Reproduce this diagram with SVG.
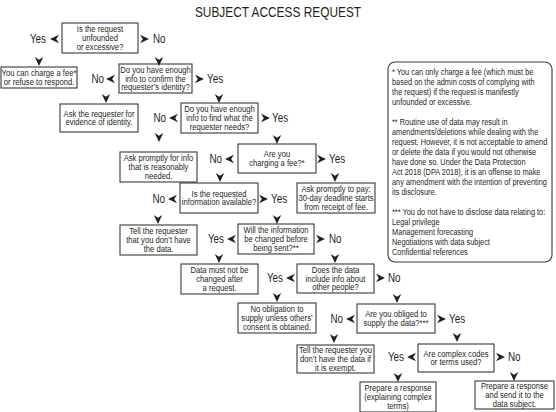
<svg xmlns="http://www.w3.org/2000/svg" xmlns:xlink="http://www.w3.org/1999/xlink" width="556" height="412" viewBox="0 0 556 412">
<style>
text{font-family:"Liberation Sans",Arial,sans-serif;fill:#231f20}
.title{font-size:14.5px;text-anchor:middle}
.bx rect{fill:#fff;stroke:#3a3a3a;stroke-width:1.1}
.bx text{font-size:9px;text-anchor:middle}
.lbl{font-size:12px}
.r{text-anchor:end}
.note{font-size:9px}
.ah{fill:#231f20}
</style>
<defs>
<path id="ar" d="M0,0 L-9,-4.2 L-6.2,0 L-9,4.2 Z"/>
</defs>
<rect width="556" height="412" fill="#fff"/>
<text class="title" transform="translate(278 0) scale(.82 1)" x="0" y="17">SUBJECT ACCESS REQUEST</text>

<g id="n1" class="bx"><rect x="62" y="23" width="76" height="30"/><text transform="translate(100 0) scale(.85 1)"><tspan x="0" y="32.3">Is the request</tspan><tspan x="0" y="41.1">unfounded</tspan><tspan x="0" y="49.9">or excessive?</tspan></text></g>
<g id="n2" class="bx"><rect x="1" y="67" width="76" height="21"/><text transform="translate(39 0) scale(.85 1)"><tspan x="0" y="76.2">You can charge a fee*</tspan><tspan x="0" y="85">or refuse to respond.</tspan></text></g>
<g id="n3" class="bx"><rect x="119" y="64" width="73" height="29"/><text transform="translate(155.5 0) scale(.85 1)"><tspan x="0" y="72.8">Do you have enough</tspan><tspan x="0" y="81.6">info to confirm the</tspan><tspan x="0" y="90.4">requester’s identity?</tspan></text></g>
<g id="n4" class="bx"><rect x="60" y="104" width="78" height="28"/><text transform="translate(99 0) scale(.85 1)"><tspan x="0" y="116.7">Ask the requester for</tspan><tspan x="0" y="125.5">evidence of identity.</tspan></text></g>
<g id="n5" class="bx"><rect x="181" y="103" width="77" height="30"/><text transform="translate(219.5 0) scale(.85 1)"><tspan x="0" y="112.3">Do you have enough</tspan><tspan x="0" y="121.1">info to find what the</tspan><tspan x="0" y="129.9">requester needs?</tspan></text></g>
<g id="n6" class="bx"><rect x="120" y="152" width="77" height="30"/><text transform="translate(158.5 0) scale(.85 1)"><tspan x="0" y="161.3">Ask promptly for info</tspan><tspan x="0" y="170.1">that is reasonably</tspan><tspan x="0" y="178.9">needed.</tspan></text></g>
<g id="n7" class="bx"><rect x="238" y="144" width="78" height="29"/><text transform="translate(277 0) scale(.85 1)"><tspan x="0" y="157.2">Are you</tspan><tspan x="0" y="166">charging a fee?*</tspan></text></g>
<g id="n8" class="bx"><rect x="180" y="183" width="78" height="30"/><text transform="translate(219 0) scale(.85 1)"><tspan x="0" y="196.7">Is the requested</tspan><tspan x="0" y="205.5">information available?</tspan></text></g>
<g id="n9" class="bx"><rect x="297" y="183" width="78" height="30"/><text transform="translate(336 0) scale(.85 1)"><tspan x="0" y="192.3">Ask promptly to pay:</tspan><tspan x="0" y="201.1">30-day deadline starts</tspan><tspan x="0" y="209.9">from receipt of fee.</tspan></text></g>
<g id="n10" class="bx"><rect x="120" y="225" width="77" height="30"/><text transform="translate(158.5 0) scale(.85 1)"><tspan x="0" y="234.3">Tell the requester</tspan><tspan x="0" y="243.1">that you don’t have</tspan><tspan x="0" y="251.9">the data.</tspan></text></g>
<g id="n11" class="bx"><rect x="238" y="224" width="76" height="30"/><text transform="translate(276 0) scale(.85 1)"><tspan x="0" y="233.3">Will the information</tspan><tspan x="0" y="242.1">be changed before</tspan><tspan x="0" y="250.9">being sent?**</tspan></text></g>
<g id="n12" class="bx"><rect x="181" y="264" width="77" height="30"/><text transform="translate(219.5 0) scale(.85 1)"><tspan x="0" y="273.3">Data must not be</tspan><tspan x="0" y="282.1">changed after</tspan><tspan x="0" y="290.9">a request.</tspan></text></g>
<g id="n13" class="bx"><rect x="297" y="264" width="77" height="29"/><text transform="translate(335.5 0) scale(.85 1)"><tspan x="0" y="272.8">Does the data</tspan><tspan x="0" y="281.6">include info about</tspan><tspan x="0" y="290.4">other people?</tspan></text></g>
<g id="n14" class="bx"><rect x="238" y="303" width="78" height="30"/><text transform="translate(277 0) scale(.85 1)"><tspan x="0" y="312.3">No obligation to</tspan><tspan x="0" y="321.1">supply unless others’</tspan><tspan x="0" y="329.9">consent is obtained.</tspan></text></g>
<g id="n15" class="bx"><rect x="357" y="304" width="78" height="29"/><text transform="translate(396 0) scale(.85 1)"><tspan x="0" y="317.2">Are you obliged to</tspan><tspan x="0" y="326">supply the data?***</tspan></text></g>
<g id="n16" class="bx"><rect x="297" y="345" width="77" height="28"/><text transform="translate(335.5 0) scale(.85 1)"><tspan x="0" y="353.3">Tell the requester you</tspan><tspan x="0" y="362.1">don’t have the data if</tspan><tspan x="0" y="370.9">it is exempt.</tspan></text></g>
<g id="n17" class="bx"><rect x="418" y="344" width="76" height="28"/><text transform="translate(456 0) scale(.85 1)"><tspan x="0" y="356.7">Are complex codes</tspan><tspan x="0" y="365.5">or terms used?</tspan></text></g>
<g id="n18" class="bx"><rect x="360" y="382" width="76" height="30"/><text transform="translate(398 0) scale(.85 1)"><tspan x="0" y="391.3">Prepare a response</tspan><tspan x="0" y="400.1">(explaining complex</tspan><tspan x="0" y="408.9">terms)</tspan></text></g>
<g id="n19" class="bx"><rect x="475" y="381" width="79" height="28"/><text transform="translate(514.5 0) scale(.85 1)"><tspan x="0" y="389.3">Prepare a response</tspan><tspan x="0" y="398.1">and send it to the</tspan><tspan x="0" y="406.9">data subject.</tspan></text></g>

<g id="notes">
<rect x="388" y="62" width="164" height="200" rx="7" fill="#fff" stroke="#3a3a3a" stroke-width="1.1"/>
<text class="note" transform="translate(392 0) scale(.82 1)">
<tspan x="0" y="75.3">* You can only charge a fee (which must be</tspan>
<tspan x="0" y="85.3">based on the admin costs of complying with</tspan>
<tspan x="0" y="95.3">the request) if the request is manifestly</tspan>
<tspan x="0" y="105.3">unfounded or excessive.</tspan>
<tspan x="0" y="125.3">** Routine use of data may result in</tspan>
<tspan x="0" y="135.3">amendments/deletions while dealing with the</tspan>
<tspan x="0" y="145.3">request. However, it is not acceptable to amend</tspan>
<tspan x="0" y="155.3">or delete the data if you would not otherwise</tspan>
<tspan x="0" y="165.3">have done so. Under the Data Protection</tspan>
<tspan x="0" y="175.3">Act 2018 (DPA 2018), it is an offense to make</tspan>
<tspan x="0" y="185.3">any amendment with the intention of preventing</tspan>
<tspan x="0" y="195.3">its disclosure.</tspan>
<tspan x="0" y="215.3">*** You do not have to disclose data relating to:</tspan>
<tspan x="0" y="225.3">Legal privilege</tspan>
<tspan x="0" y="235.3">Management forecasting</tspan>
<tspan x="0" y="245.3">Negotiations with data subject</tspan>
<tspan x="0" y="255.3">Confidential references</tspan>
</text>
</g>

<g id="connectors">
<g class="ah">
<use xlink:href="#ar" transform="translate(50,39) rotate(180)"/>
<use xlink:href="#ar" transform="translate(149,39)"/>
<use xlink:href="#ar" transform="translate(39,66) rotate(90)"/>
<use xlink:href="#ar" transform="translate(159,66) rotate(90)"/>
<use xlink:href="#ar" transform="translate(106,79) rotate(180)"/>
<use xlink:href="#ar" transform="translate(204,79)"/>
<use xlink:href="#ar" transform="translate(106,103) rotate(90)"/>
<use xlink:href="#ar" transform="translate(219,103) rotate(90)"/>
<use xlink:href="#ar" transform="translate(169,118) rotate(180)"/>
<use xlink:href="#ar" transform="translate(270,118)"/>
<use xlink:href="#ar" transform="translate(159,142) rotate(90)"/>
<use xlink:href="#ar" transform="translate(277,144) rotate(90)"/>
<use xlink:href="#ar" transform="translate(225,159) rotate(180)"/>
<use xlink:href="#ar" transform="translate(326,159)"/>
<use xlink:href="#ar" transform="translate(220,182) rotate(90)"/>
<use xlink:href="#ar" transform="translate(335,182) rotate(90)"/>
<use xlink:href="#ar" transform="translate(168,199) rotate(180)"/>
<use xlink:href="#ar" transform="translate(268,199)"/>
<use xlink:href="#ar" transform="translate(158,224) rotate(90)"/>
<use xlink:href="#ar" transform="translate(277,224) rotate(90)"/>
<use xlink:href="#ar" transform="translate(227,239) rotate(180)"/>
<use xlink:href="#ar" transform="translate(325,239)"/>
<use xlink:href="#ar" transform="translate(219,263) rotate(90)"/>
<use xlink:href="#ar" transform="translate(335,263) rotate(90)"/>
<use xlink:href="#ar" transform="translate(286,278) rotate(180)"/>
<use xlink:href="#ar" transform="translate(385,278)"/>
<use xlink:href="#ar" transform="translate(277,302) rotate(90)"/>
<use xlink:href="#ar" transform="translate(397,303) rotate(90)"/>
<use xlink:href="#ar" transform="translate(346,319) rotate(180)"/>
<use xlink:href="#ar" transform="translate(446,319)"/>
<use xlink:href="#ar" transform="translate(334,343) rotate(90)"/>
<use xlink:href="#ar" transform="translate(457,342) rotate(90)"/>
<use xlink:href="#ar" transform="translate(407,357) rotate(180)"/>
<use xlink:href="#ar" transform="translate(505,357)"/>
<use xlink:href="#ar" transform="translate(398,382) rotate(90)"/>
<use xlink:href="#ar" transform="translate(514,381) rotate(90)"/>
</g>
<text class="lbl r" transform="translate(46 0) scale(.82 1)" y="43.3">Yes</text>
<text class="lbl" transform="translate(153 0) scale(.82 1)" y="43.3">No</text>
<text class="lbl r" transform="translate(104 0) scale(.82 1)" y="83.3">No</text>
<text class="lbl" transform="translate(207 0) scale(.82 1)" y="83.3">Yes</text>
<text class="lbl r" transform="translate(166 0) scale(.82 1)" y="122.3">No</text>
<text class="lbl" transform="translate(272 0) scale(.82 1)" y="122.3">Yes</text>
<text class="lbl r" transform="translate(222 0) scale(.82 1)" y="163.3">No</text>
<text class="lbl" transform="translate(329 0) scale(.82 1)" y="163.3">Yes</text>
<text class="lbl r" transform="translate(165 0) scale(.82 1)" y="203.3">No</text>
<text class="lbl" transform="translate(271 0) scale(.82 1)" y="203.3">Yes</text>
<text class="lbl r" transform="translate(224 0) scale(.82 1)" y="243.3">Yes</text>
<text class="lbl" transform="translate(329 0) scale(.82 1)" y="243.3">No</text>
<text class="lbl r" transform="translate(283 0) scale(.82 1)" y="282.3">Yes</text>
<text class="lbl" transform="translate(388 0) scale(.82 1)" y="282.3">No</text>
<text class="lbl r" transform="translate(343 0) scale(.82 1)" y="323.3">No</text>
<text class="lbl" transform="translate(449 0) scale(.82 1)" y="323.3">Yes</text>
<text class="lbl r" transform="translate(404 0) scale(.82 1)" y="361.3">Yes</text>
<text class="lbl" transform="translate(508 0) scale(.82 1)" y="361.3">No</text>
</g>
</svg>
